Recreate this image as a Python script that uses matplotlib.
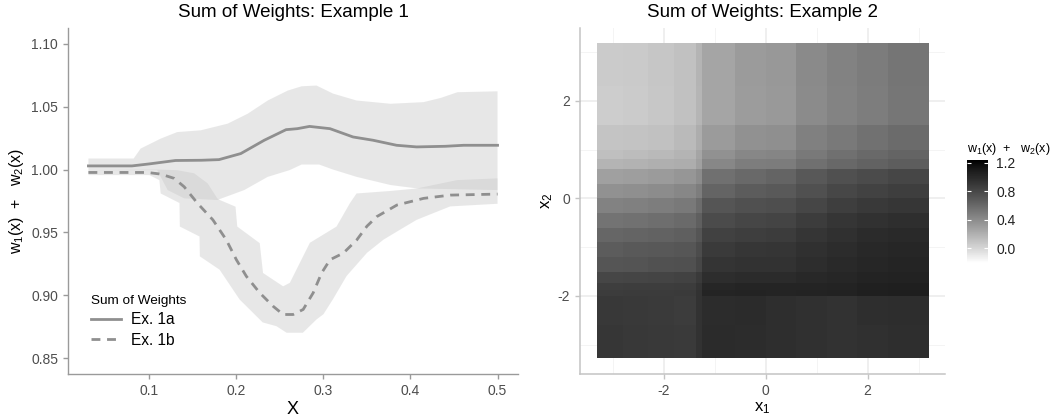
import numpy as np
import matplotlib
matplotlib.use("Agg")
import matplotlib.pyplot as plt
from matplotlib.colors import LinearSegmentedColormap, Normalize

plt.rcParams['font.family'] = ['Liberation Sans', 'DejaVu Sans']
plt.rcParams['axes.unicode_minus'] = False

# ---- Example 1: curves and their bands
ex1a_x = [0.03, 0.08, 0.10, 0.13, 0.16, 0.18, 0.205, 0.232, 0.257, 0.27, 0.284, 0.3075,
          0.334, 0.357, 0.384, 0.407, 0.44, 0.461, 0.50]
ex1a_y = [1.0029, 1.0029, 1.0045, 1.0072, 1.0074, 1.0079, 1.0127, 1.0233, 1.0317, 1.0325,
          1.0343, 1.0325, 1.0259, 1.0233, 1.0193, 1.018, 1.0185, 1.0193, 1.0193]

ex1a_hi_x = [0.03, 0.082, 0.09, 0.113, 0.132, 0.159, 0.19, 0.213, 0.236, 0.259, 0.275,
             0.292, 0.311, 0.338, 0.377, 0.415, 0.435, 0.454, 0.50]
ex1a_hi = [1.0088, 1.0088, 1.0167, 1.0246, 1.0298, 1.0312, 1.0365, 1.0444, 1.0549, 1.0628,
           1.0662, 1.0668, 1.0604, 1.0549, 1.0523, 1.0536, 1.057, 1.0615, 1.0622]
ex1a_lo_x = [0.03, 0.109, 0.121, 0.14, 0.178, 0.209, 0.236, 0.261, 0.275, 0.295, 0.311,
             0.338, 0.377, 0.4075, 0.50]
ex1a_lo = [0.9995, 0.9995, 0.9837, 0.9771, 0.9758, 0.9837, 0.9942, 0.9995, 1.004, 1.004,
           1.0, 0.9942, 0.9877, 0.985, 0.9837]

ex1b_x = [0.03, 0.0977, 0.113, 0.1285, 0.14, 0.1553, 0.173, 0.1884, 0.20, 0.2115, 0.2268,
          0.2421, 0.2537, 0.2652, 0.2767, 0.2882, 0.2979, 0.3075, 0.3229, 0.3383, 0.35,
          0.3613, 0.3844, 0.415, 0.4458, 0.50]
ex1b_y = [0.9977, 0.9977, 0.9964, 0.993, 0.9863, 0.9732, 0.960, 0.9441, 0.9283, 0.9151,
          0.902, 0.8914, 0.8848, 0.8848, 0.8888, 0.902, 0.9178, 0.9283, 0.9336, 0.9441,
          0.955, 0.9626, 0.9718, 0.9771, 0.9797, 0.9805]

ex1b_hi_x = [0.03, 0.109, 0.132, 0.1515, 0.167, 0.178, 0.181, 0.199, 0.201, 0.2268, 0.2306,
             0.2537, 0.2614, 0.2844, 0.315, 0.3305, 0.338, 0.377, 0.4075, 0.4535, 0.50]
ex1b_hi = [0.9995, 1.0, 0.9995, 0.997, 0.989, 0.9771, 0.9758, 0.9705, 0.9547, 0.9415, 0.9178,
           0.9072, 0.910, 0.9418, 0.9547, 0.9734, 0.981, 0.983, 0.985, 0.9916, 0.993]
ex1b_lo_x = [0.03, 0.1, 0.1115, 0.113, 0.1346, 0.135, 0.1576, 0.158, 0.1807, 0.2037, 0.2302,
             0.246, 0.2576, 0.2764, 0.2921, 0.30, 0.311, 0.3266, 0.35, 0.369, 0.388, 0.407,
             0.4264, 0.4456, 0.50]
ex1b_lo = [0.9956, 0.9956, 0.9916, 0.981, 0.9734, 0.9547, 0.9468, 0.931, 0.9204, 0.8967,
           0.8785, 0.8755, 0.8703, 0.8703, 0.8809, 0.885, 0.897, 0.9154, 0.9338, 0.9443,
           0.9522, 0.960, 0.9654, 0.9707, 0.9728]

x_ticks1 = [0.1, 0.2, 0.3, 0.4, 0.5]
y_ticks1 = [0.85, 0.90, 0.95, 1.00, 1.05, 1.10]

# ---- Example 2: sum of weights on a (coarse) x1 / x2 grid
x1_edges = [-3.30, -2.8, -2.3, -1.8, -1.37, -1.24, -0.6, 0.0, 0.6, 1.2, 1.8, 2.4, 3.2]
x2_edges = [3.18, 2.3, 1.5, 1.0, 0.8, 0.6, 0.3, 0.0, -0.3, -0.6, -0.9, -1.2, -1.5,
            -1.74, -1.87, -2.0, -2.6, -3.28]
w_sum = [
    [0.054, 0.059, 0.080, 0.112, 0.177, 0.258, 0.314, 0.331, 0.409, 0.454, 0.487, 0.527],
    [0.050, 0.056, 0.077, 0.110, 0.175, 0.255, 0.310, 0.328, 0.405, 0.450, 0.484, 0.524],
    [0.091, 0.096, 0.112, 0.144, 0.220, 0.314, 0.370, 0.381, 0.465, 0.509, 0.550, 0.585],
    [0.123, 0.134, 0.150, 0.177, 0.258, 0.370, 0.426, 0.437, 0.509, 0.556, 0.596, 0.625],
    [0.177, 0.188, 0.204, 0.220, 0.286, 0.426, 0.482, 0.487, 0.556, 0.602, 0.637, 0.666],
    [0.286, 0.297, 0.314, 0.342, 0.398, 0.556, 0.596, 0.625, 0.698, 0.748, 0.780, 0.811],
    [0.370, 0.381, 0.398, 0.426, 0.482, 0.625, 0.672, 0.685, 0.748, 0.799, 0.836, 0.862],
    [0.454, 0.465, 0.482, 0.509, 0.579, 0.717, 0.748, 0.761, 0.811, 0.862, 0.893, 0.906],
    [0.538, 0.550, 0.567, 0.590, 0.654, 0.780, 0.811, 0.824, 0.874, 0.912, 0.944, 0.957],
    [0.614, 0.625, 0.637, 0.654, 0.717, 0.843, 0.862, 0.874, 0.912, 0.950, 0.985, 0.991],
    [0.672, 0.685, 0.698, 0.710, 0.774, 0.887, 0.906, 0.912, 0.950, 0.978, 1.005, 1.019],
    [0.717, 0.723, 0.736, 0.748, 0.811, 0.925, 0.937, 0.937, 0.971, 0.991, 1.019, 1.026],
    [0.811, 0.818, 0.824, 0.836, 0.887, 0.971, 0.985, 0.985, 1.005, 1.019, 1.040, 1.047],
    [0.862, 0.868, 0.868, 0.874, 0.925, 1.019, 1.026, 1.026, 1.033, 1.040, 1.061, 1.067],
    [0.874, 0.880, 0.880, 0.887, 0.937, 1.033, 1.040, 1.033, 1.040, 1.047, 1.067, 1.074],
    [0.899, 0.893, 0.887, 0.874, 0.937, 0.978, 0.980, 0.964, 0.950, 0.937, 0.957, 0.971],
    [0.906, 0.899, 0.893, 0.887, 0.937, 0.985, 0.978, 0.964, 0.950, 0.937, 0.950, 0.964],
]
cbar_ticks = [0.0, 0.4, 0.8, 1.2]

# white -> black, even steps in lightness (like ggplot's gradient)
grey_nodes = [255, 226, 198, 171, 145, 119, 94, 71, 48, 27, 0]
cmap = LinearSegmentedColormap.from_list(
    "wb", [(i / 10, (g / 255, g / 255, g / 255)) for i, g in enumerate(grey_nodes)])
norm = Normalize(vmin=-0.21, vmax=1.24)

band_col = (200 / 255,) * 3
line_col = "#8f8f8f"
axis_col = "#9a9a9a"
tick_txt = "#4d4d4d"

fig = plt.figure(figsize=(10.52, 4.17), dpi=100)

# ---------------- left panel
ax1 = fig.add_axes([0.0646, 0.1031, 0.4278, 0.8297])
ax1.fill(np.concatenate([ex1a_lo_x, ex1a_hi_x[::-1]]), np.concatenate([ex1a_lo, ex1a_hi[::-1]]),
         color=band_col, alpha=0.42, lw=0)
ax1.fill(np.concatenate([ex1b_lo_x, ex1b_hi_x[::-1]]), np.concatenate([ex1b_lo, ex1b_hi[::-1]]),
         color=band_col, alpha=0.42, lw=0)
ax1.plot(ex1a_x, ex1a_y, color=line_col, lw=2.0, label="Ex. 1a")
ax1.plot(ex1b_x, ex1b_y, color=line_col, lw=2.0, ls=(0, (3.2, 2.4)), label="Ex. 1b")

ax1.set_xlim(0.0065, 0.5235)
ax1.set_ylim(0.8375, 1.1125)
ax1.set_xticks(x_ticks1)
ax1.set_xticklabels(["%g" % v for v in x_ticks1])
ax1.set_yticks(y_ticks1)
ax1.set_yticklabels(["%.2f" % v for v in y_ticks1])
for s in ["top", "right"]:
    ax1.spines[s].set_visible(False)
for s in ["left", "bottom"]:
    ax1.spines[s].set_color(axis_col)
    ax1.spines[s].set_linewidth(1.0)
ax1.tick_params(colors=axis_col, labelcolor=tick_txt, labelsize=10, length=3.5, width=1.0)
ax1.set_title("Sum of Weights: Example 1", fontsize=13.5, pad=8)
ax1.set_xlabel("X", fontsize=13, labelpad=2)
ax1.set_ylabel(r"$\mathregular{w_1(x)\ +\ \ w_2(x)}$", fontsize=11.5, labelpad=4)
leg = ax1.legend(loc="lower left", bbox_to_anchor=(0.02, 0.035), frameon=False,
                 title="Sum of Weights", title_fontsize=9.7, fontsize=11.2,
                 handlelength=1.9, handletextpad=0.7, labelspacing=0.35, alignment="left")

# ---------------- right panel
ax2 = fig.add_axes([0.5513, 0.1031, 0.347, 0.8297])
ax2.set_axisbelow(True)
ax2.set_xticks([-2, 0, 2])
ax2.set_yticks([-2, 0, 2])
ax2.set_xticks([-3, -1, 1, 3], minor=True)
ax2.set_yticks([-3, -1, 1, 3], minor=True)
ax2.grid(True, which="major", color="#ebebeb", lw=1.1)
ax2.grid(True, which="minor", color="#f2f2f2", lw=0.6)
mesh = ax2.pcolormesh(x1_edges, x2_edges, np.array(w_sum), cmap=cmap, norm=norm, zorder=2)
ax2.set_xlim(-3.64, 3.52)
ax2.set_ylim(-3.60, 3.49)
for s in ["top", "right"]:
    ax2.spines[s].set_visible(False)
for s in ["left", "bottom"]:
    ax2.spines[s].set_color("#c4c4c4")
    ax2.spines[s].set_linewidth(1.1)
ax2.tick_params(which="major", colors="#c4c4c4", labelcolor=tick_txt, labelsize=10,
                length=3.5, width=1.0)
ax2.tick_params(which="minor", length=0)
ax2.set_title("Sum of Weights: Example 2", fontsize=13.5, pad=8)
ax2.set_xlabel(r"$\mathregular{x_1}$", fontsize=12, labelpad=2)
ax2.set_ylabel(r"$\mathregular{x_2}$", fontsize=12, labelpad=2)

# colour bar
cax = fig.add_axes([0.9192, 0.3693, 0.020, 0.247])
cb = fig.colorbar(mesh, cax=cax, ticks=cbar_ticks)
cb.outline.set_visible(False)
cb.ax.set_yticklabels(["%.1f" % v for v in cbar_ticks])
cb.ax.tick_params(direction="in", color="white", length=3, width=0.8, labelsize=10,
                  labelcolor="#222222", pad=6, left=True, right=True)
cax.set_title(r"$\mathregular{w_1(x)\ +\ \ w_2(x)}$", fontsize=9, loc="left", pad=6)

fig.savefig("out.png", dpi=100)
